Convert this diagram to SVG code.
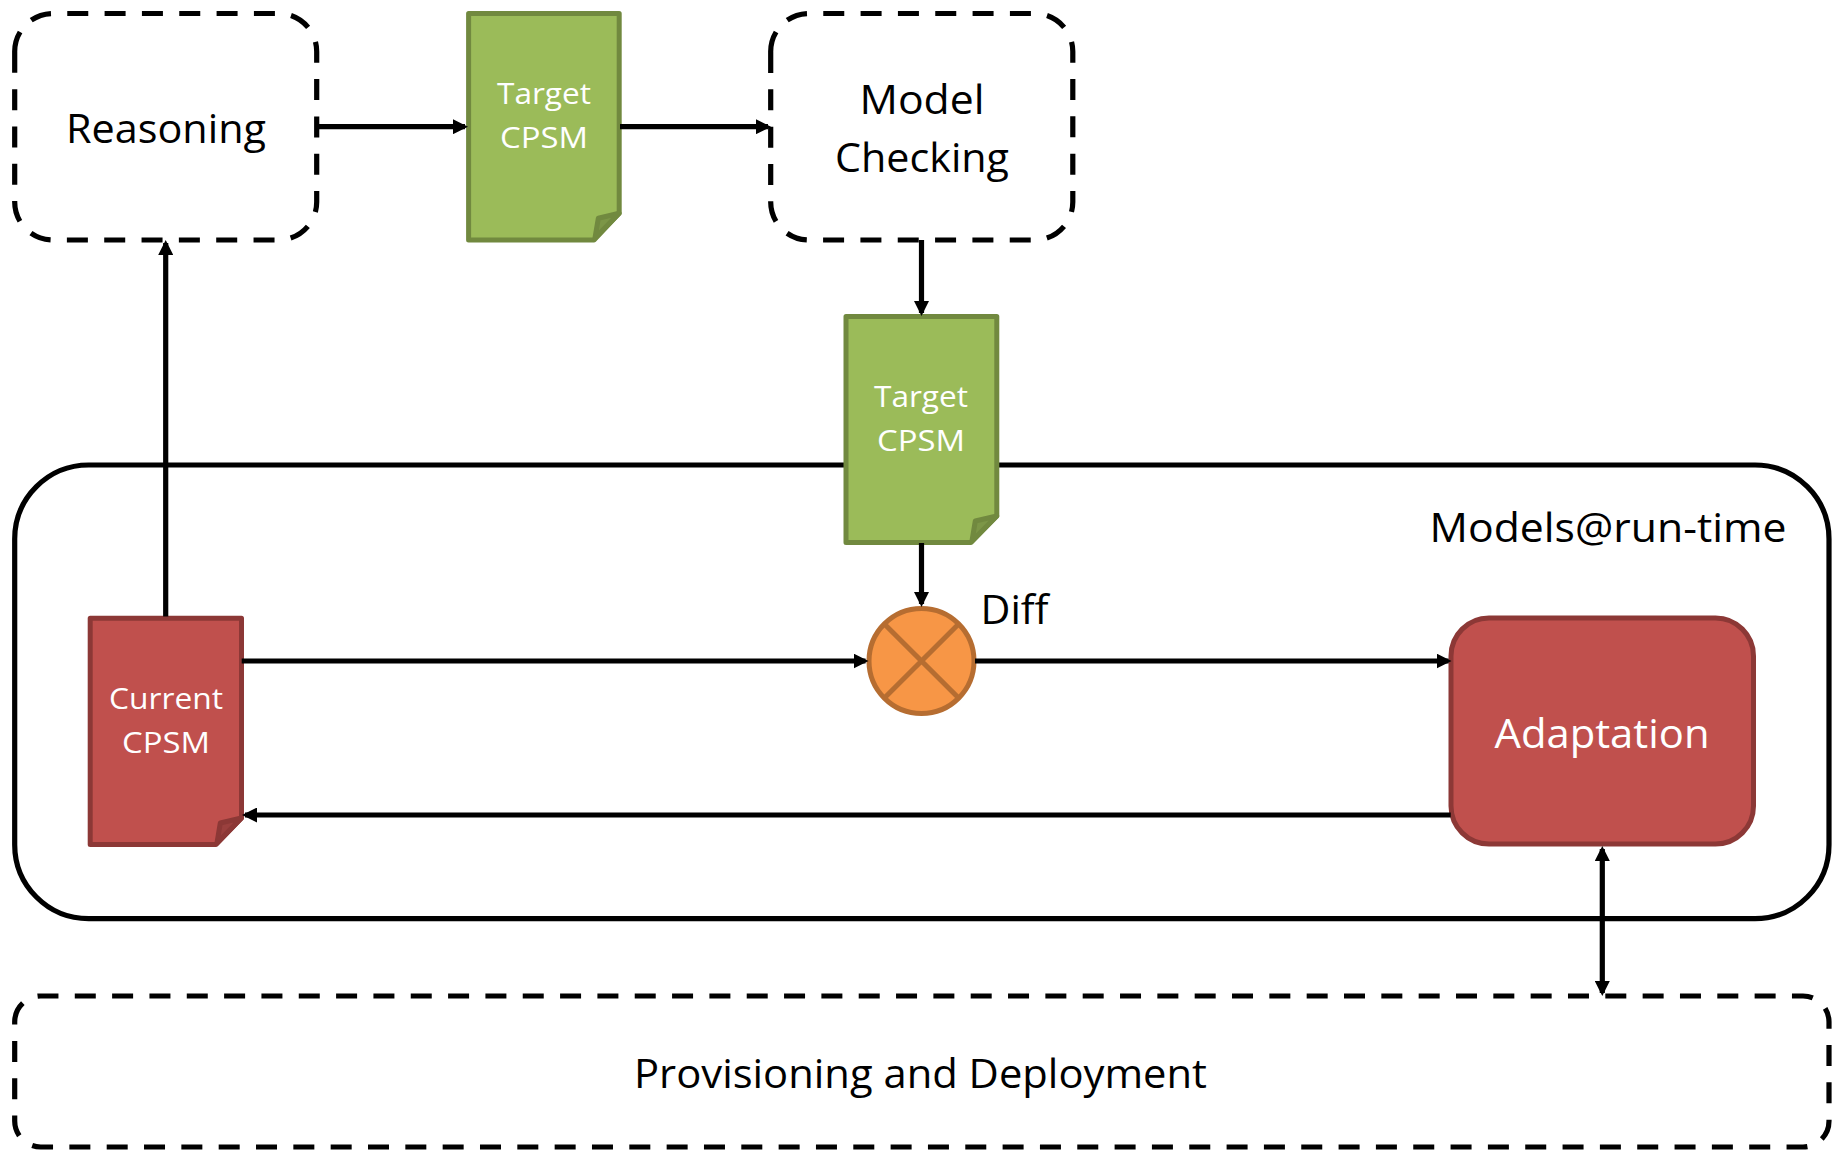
<svg xmlns="http://www.w3.org/2000/svg" width="1841" height="1151" viewBox="0 0 1841 1151">
<style>
text{font-family:"Open Sans","Noto Sans","Liberation Sans",sans-serif;text-anchor:middle}
.k{fill:#000;font-size:41px}
.w{fill:#fff;font-size:30px}
.dash{fill:none;stroke:#000;stroke-width:5.2;stroke-dasharray:21 16.33}
.ln{fill:none;stroke:#000;stroke-width:5.2}
.g{fill:#9bbb59;stroke:#71893f;stroke-width:5;stroke-linejoin:round}
.gf{fill:#7c9647;stroke:#71893f;stroke-width:5;stroke-linejoin:round}
.r{fill:#c0504d;stroke:#8c3836;stroke-width:5;stroke-linejoin:round}
.rf{fill:#9a403e;stroke:#8c3836;stroke-width:5;stroke-linejoin:round}
</style>
<defs>
<marker id="a" viewBox="0 0 15 15" refX="12" refY="7.5" markerWidth="15" markerHeight="15" markerUnits="userSpaceOnUse" orient="auto-start-reverse"><path d="M0 0L15 7.500L0 15z" fill="#000"/></marker>
</defs>
<g id="container"><rect x="14.700" y="465" width="1814.300" height="453.700" rx="74" fill="#fff" stroke="#000" stroke-width="5.200"/></g>
<g id="reasoning"><path class="dash" d="M14.700 52A38 38 0 0 1 52.700 13.500H278.700A38 38 0 0 1 316.700 52V202A38 38 0 0 1 278.700 240H52.700A38 38 0 0 1 14.700 202Z"/><text class="k" x="166" y="143" textLength="200" lengthAdjust="spacingAndGlyphs">Reasoning</text></g>
<g id="target1"><path class="g" d="M468.600 13.500H619.200V213.300L594 240H468.600z"/><path class="gf" d="M595 238L598.300 218.300L619.200 213.300z"/><text class="w" x="544" y="104" textLength="94" lengthAdjust="spacingAndGlyphs">Target</text><text class="w" x="544" y="148" textLength="88" lengthAdjust="spacingAndGlyphs">CPSM</text></g>
<g id="checking"><path class="dash" d="M770.700 52A38 38 0 0 1 808.700 13.500H1034.800A38 38 0 0 1 1072.800 52V202A38 38 0 0 1 1034.800 240H808.700A38 38 0 0 1 770.700 202Z"/><text class="k" x="922" y="114" textLength="125" lengthAdjust="spacingAndGlyphs">Model</text><text class="k" x="922" y="172" textLength="174" lengthAdjust="spacingAndGlyphs">Checking</text></g>
<g id="target2"><path class="g" d="M846 316.500H996.800V516L971 542.500H846z"/><path class="gf" d="M972 541L975.300 521L996.800 516z"/><text class="w" x="921" y="407" textLength="94" lengthAdjust="spacingAndGlyphs">Target</text><text class="w" x="921" y="451" textLength="88" lengthAdjust="spacingAndGlyphs">CPSM</text></g>
<g id="current"><path class="r" d="M90.200 618.200H241.500V818L216 844.500H90.200z"/><path class="rf" d="M217 843L220.300 823L241.500 818z"/><text class="w" x="166" y="708.500" textLength="114" lengthAdjust="spacingAndGlyphs">Current</text><text class="w" x="166" y="753" textLength="88" lengthAdjust="spacingAndGlyphs">CPSM</text></g>
<g id="diff"><circle cx="921.500" cy="661" r="52.500" fill="#f79646" stroke="#b66d31" stroke-width="5"/><path d="M884.400 623.900L958.600 698.100M884.400 698.100L958.600 623.900" stroke="#b66d31" stroke-width="5" fill="none"/><text class="k" x="1014.500" y="624" textLength="68" lengthAdjust="spacingAndGlyphs">Diff</text></g>
<g id="adaptation"><rect x="1451" y="618" width="302.500" height="226" rx="38" fill="#c0504d" stroke="#8c3836" stroke-width="5"/><text x="1602" y="748" fill="#fff" font-size="41" textLength="215" lengthAdjust="spacingAndGlyphs">Adaptation</text></g>
<g id="modelsLabel"><text class="k" x="1608" y="542" textLength="357" lengthAdjust="spacingAndGlyphs">Models@run-time</text></g>
<g id="provisioning"><path class="dash" d="M14.700 1022A26 26 0 0 1 40.700 996H1803A26 26 0 0 1 1829 1022V1121A26 26 0 0 1 1803 1147H40.700A26 26 0 0 1 14.700 1121Z"/><text class="k" x="920.500" y="1088" textLength="573" lengthAdjust="spacingAndGlyphs">Provisioning and Deployment</text></g>
<g id="connectors">
<path class="ln" d="M315 126.700H465" marker-end="url(#a)"/>
<path class="ln" d="M620 126.700H768" marker-end="url(#a)"/>
<path class="ln" d="M921.500 240V313" marker-end="url(#a)"/>
<path class="ln" d="M921.500 543V604" marker-end="url(#a)"/>
<path class="ln" d="M165.700 616.500V243" marker-end="url(#a)"/>
<path class="ln" d="M241.700 661H865.500" marker-end="url(#a)"/>
<path class="ln" d="M975 661H1448.500" marker-end="url(#a)"/>
<path class="ln" d="M1450.700 815H245" marker-end="url(#a)"/>
<path class="ln" d="M1602.300 849V993" marker-start="url(#a)" marker-end="url(#a)"/>
</g>
</svg>
